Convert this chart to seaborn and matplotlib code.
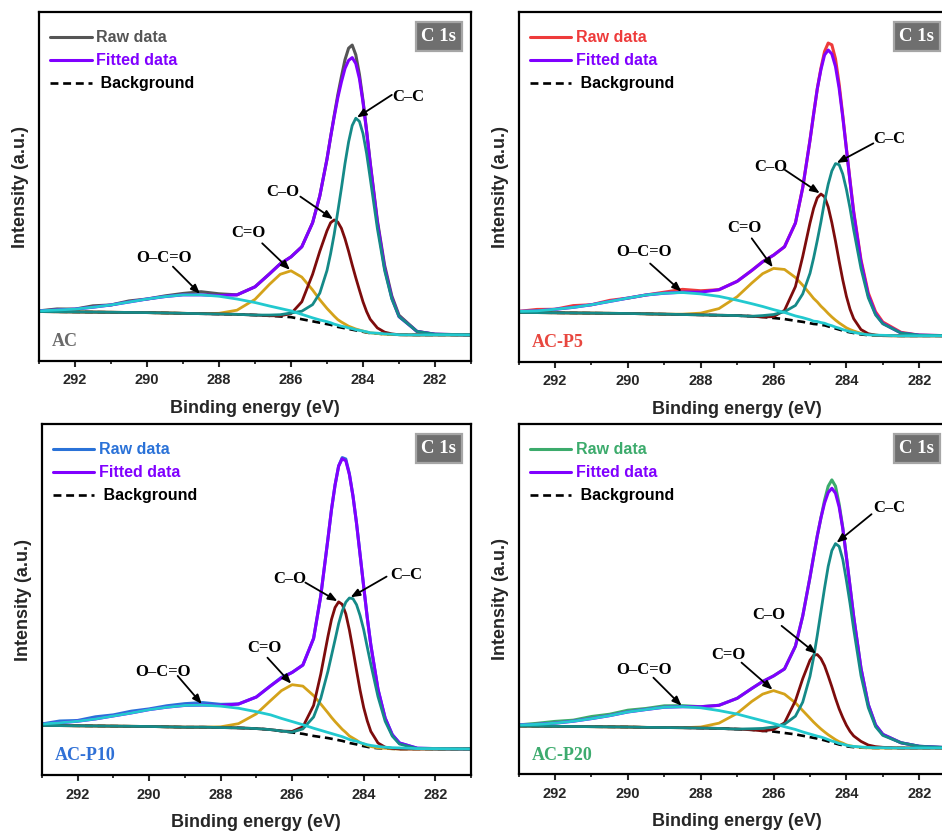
import numpy as np
import pandas as pd
import seaborn as sns
import matplotlib
matplotlib.use("Agg")
import matplotlib.pyplot as plt
from matplotlib.ticker import MultipleLocator

# ---------------------------------------------------------------------------
# C 1s spectra: binding-energy grid shared by all samples (eV)
# ---------------------------------------------------------------------------
energy = [293.0, 292.5, 292.0, 291.5, 291.0, 290.5, 290.0, 289.5, 289.0, 288.5,
          288.0, 287.5, 287.0, 286.6, 286.3, 286.0, 285.7, 285.4, 285.2, 285.0,
          284.9, 284.8, 284.7, 284.6, 284.5, 284.4, 284.3, 284.2, 284.1, 284.0,
          283.9, 283.8, 283.6, 283.4, 283.2, 283.0, 282.5, 282.0, 281.0]

samples = ["AC", "AC-P5", "AC-P10", "AC-P20"]

# Shirley-type backgrounds (a.u.)
bg_ac = [14.1, 14.05, 14.0, 13.95, 13.9, 13.85, 13.8, 13.7, 13.6, 13.5,
         13.4, 13.3, 13.1, 12.9, 12.7, 12.5, 11.9, 11.3, 10.9, 10.5,
         10.3, 10.0, 9.7, 9.5, 9.3, 9.1, 8.9, 8.7, 8.5, 8.3,
         8.1, 7.9, 7.8, 7.6, 7.5, 7.45, 7.4, 7.4, 7.4]
bg_p5 = [14.1, 14.05, 14.0, 13.95, 13.9, 13.85, 13.8, 13.7, 13.6, 13.5,
         13.4, 13.3, 13.2, 13.0, 12.8, 12.5, 12.2, 11.7, 11.4, 11.0,
         10.8, 10.7, 10.5, 10.4, 10.1, 9.8, 9.5, 9.2, 8.9, 8.6,
         8.4, 8.2, 7.8, 7.6, 7.5, 7.45, 7.4, 7.4, 7.4]
bg_p10 = [14.2, 14.15, 14.1, 14.05, 14.0, 13.95, 13.9, 13.8, 13.7, 13.7,
          13.6, 13.5, 13.3, 13.0, 12.6, 12.2, 11.8, 11.2, 10.9, 10.6,
          10.4, 10.2, 10.0, 9.8, 9.5, 9.2, 9.0, 8.8, 8.5, 8.3,
          8.1, 7.9, 7.7, 7.6, 7.55, 7.5, 7.5, 7.5, 7.5]
bg_p20 = [13.8, 13.75, 13.7, 13.65, 13.6, 13.55, 13.5, 13.4, 13.35, 13.3,
          13.2, 13.1, 12.9, 12.7, 12.4, 12.2, 11.8, 11.4, 11.0, 10.6,
          10.4, 10.2, 9.95, 9.7, 9.4, 9.1, 8.8, 8.5, 8.3, 8.0,
          7.85, 7.75, 7.6, 7.55, 7.5, 7.5, 7.5, 7.5, 7.5]

# Fitted components, height above the background (a.u.)
cc_ac = [0, 0, 0, 0, 0, 0, 0, 0, 0, 0, 0, 0, 0, 0.2, 0.5, 1.2, 2.3, 4.8, 8.5, 15.4,
         20.4, 26.3, 33.1, 40.0, 47.3, 53.7, 58.6, 60.9, 60.2, 56.9,
         51.4, 44.5, 30.1, 18.3, 10.2, 5.2, 1.0, 0.2, 0]
co_ac = [0, 0, 0, 0, 0, 0, 0, 0, 0, 0, 0, 0, 0, 0, 0.2, 1.0, 5.0, 13.5, 20.5, 26.8,
         29.3, 30.4, 30.1, 28.5, 25.7, 22.3, 18.6, 15.1, 11.8, 8.6,
         6.0, 4.0, 1.6, 0.6, 0.2, 0, 0, 0, 0]
cdo_ac = [0, 0, 0, 0, 0, 0, 0, 0, 0, 0, 0.2, 1.2, 4.5, 9.0, 12.1, 13.3, 12.1, 9.0, 6.6, 4.5,
          3.6, 2.8, 2.1, 1.6, 1.2, 0.8, 0.6, 0.4, 0.3, 0.2,
          0.1, 0.1, 0, 0, 0, 0, 0, 0, 0]
oco_ac = [0.2, 0.5, 0.8, 1.4, 2.1, 3.0, 3.9, 4.7, 5.3, 5.4, 5.1, 4.4, 3.6, 2.8, 2.3, 1.8, 1.4, 1.0, 0.8, 0.7,
          0.6, 0.5, 0.5, 0.4, 0.4, 0.3, 0.3, 0.2, 0.2, 0.2,
          0.2, 0.1, 0.1, 0.1, 0.1, 0, 0, 0, 0]
res_ac = [0, 0.3, 0, 0.4, 0, 0.3, 0, 0.2, 0.4, 0.9, 0.5, 0, 0, 0, 0, 0, 0, 0, 0, 0,
          0, 0.4, 0.8, 1.5, 2.5, 3.5, 3.6, 2.5, 1.2, 0.5,
          0.3, 0.3, 0.6, 0.8, 0.6, 0.4, 0, 0, 0]

cc_p5 = [0, 0, 0, 0, 0, 0, 0, 0, 0, 0, 0, 0, 0, 0, 0.4, 1.0, 2.1, 4.4, 8.0, 14.3,
         18.9, 24.0, 29.5, 35.5, 40.7, 44.8, 47.2, 47.2, 44.8, 40.7,
         35.5, 29.5, 18.9, 10.7, 5.9, 3.4, 0.8, 0.2, 0]
co_p5 = [0, 0, 0, 0, 0, 0, 0, 0, 0, 0, 0, 0, 0, 0, 0, 0.4, 2.5, 9.8, 18.7, 28.7,
         33.1, 36.2, 37.5, 36.8, 34.2, 30.0, 25.0, 19.6, 14.5, 10.1,
         6.6, 4.1, 1.4, 0.4, 0.1, 0, 0, 0, 0]
cdo_p5 = [0, 0, 0, 0, 0, 0, 0, 0, 0, 0.1, 0.5, 1.9, 5.4, 9.5, 12.4, 14.2, 14.2, 12.4, 10.5, 8.4,
          7.3, 6.4, 5.4, 4.5, 3.7, 3.0, 2.4, 1.9, 1.5, 1.1,
          0.8, 0.6, 0.3, 0.2, 0.1, 0, 0, 0, 0]
oco_p5 = [0.3, 0.5, 1.0, 1.6, 2.4, 3.4, 4.4, 5.4, 6.0, 6.3, 6.0, 5.4, 4.4, 3.6, 3.0, 2.4, 1.9, 1.4, 1.2, 1.0,
          0.8, 0.8, 0.7, 0.6, 0.5, 0.5, 0.4, 0.4, 0.3, 0.3,
          0.2, 0.2, 0.2, 0.1, 0.1, 0.1, 0, 0, 0]
res_p5 = [0, 0.4, 0, 0.5, 0, 0.3, 0, 0, 0.3, 0.8, 0.4, 0, 0, 0, 0, 0, 0, 0, 0, 0,
          0, 0, 0.4, 1.0, 2.0, 2.6, 2.2, 1.2, 0.5, 0.2,
          0.3, 0.4, 0.6, 0.7, 0.6, 0.4, 0.2, 0, 0]

cc_p10 = [0, 0, 0, 0, 0, 0, 0, 0, 0, 0, 0, 0, 0, 0, 0, 0.1, 1.4, 5.4, 11.0, 19.0,
          23.7, 28.4, 33.2, 37.0, 39.8, 41.3, 41.3, 39.8, 37.0, 33.2,
          28.4, 23.7, 14.7, 7.8, 3.6, 1.4, 0.1, 0, 0]
co_p10 = [0, 0, 0, 0, 0, 0, 0, 0, 0, 0, 0, 0, 0, 0, 0, 0.3, 2.0, 8.7, 17.9, 28.9,
          34.0, 37.6, 39.4, 38.9, 36.5, 32.2, 26.8, 21.1, 15.7, 11.0,
          7.4, 4.6, 1.5, 0.4, 0.1, 0, 0, 0, 0]
cdo_p10 = [0, 0, 0, 0, 0, 0, 0, 0, 0, 0, 0.2, 1.2, 4.2, 8.3, 11.5, 13.6, 13.6, 11.5, 9.4, 7.2,
           6.1, 5.1, 4.2, 3.3, 2.7, 2.0, 1.6, 1.2, 0.8, 0.6,
           0.4, 0.3, 0.1, 0.1, 0, 0, 0, 0, 0]
oco_p10 = [0.4, 0.8, 1.3, 2.0, 2.9, 3.8, 4.8, 5.6, 6.2, 6.3, 6.1, 5.6, 4.8, 4.2, 3.6, 3.1, 2.6, 2.2, 1.9, 1.6,
           1.5, 1.4, 1.3, 1.2, 1.1, 1.0, 0.9, 0.9, 0.8, 0.7,
           0.6, 0.6, 0.5, 0.4, 0.3, 0.3, 0.1, 0.1, 0]
res_p10 = [0, 0.5, 0.2, 0.6, 0.3, 0.5, 0.2, 0.4, 0.5, 0.7, 0.3, 0, 0, 0, 0.2, 0, 0, 0, 0, 0,
           0, 0, 0, 0.3, 0.5, 0.2, 0, 0, 0, 0,
           0, 0, 0, 0, 0, 0, 0, 0, 0]

cc_p20 = [0, 0, 0, 0, 0, 0, 0, 0, 0, 0, 0, 0, 0, 0.3, 0.7, 1.3, 2.5, 5.2, 9.6, 17.4,
          23.0, 29.5, 36.5, 43.5, 50.0, 54.8, 57.1, 56.6, 53.1, 47.4,
          40.9, 33.7, 20.6, 11.5, 6.1, 3.6, 1.5, 0.5, 0]
co_p20 = [0, 0, 0, 0, 0, 0, 0, 0, 0, 0, 0, 0, 0, 0, 0, 0.6, 2.9, 9.6, 16.3, 22.0,
          23.6, 24.0, 23.1, 21.3, 18.7, 15.9, 12.9, 10.2, 7.9, 6.0,
          4.4, 3.2, 1.8, 0.8, 0.4, 0.2, 0, 0, 0]
cdo_p20 = [0, 0, 0, 0, 0, 0, 0, 0, 0, 0, 0.3, 1.5, 4.5, 8.1, 10.5, 11.7, 11.1, 9.0, 7.2, 5.4,
           4.5, 3.7, 3.0, 2.4, 1.9, 1.5, 1.1, 0.8, 0.6, 0.4,
           0.3, 0.2, 0.1, 0, 0, 0, 0, 0, 0]
oco_p20 = [0.3, 0.5, 0.9, 1.5, 2.3, 3.2, 4.3, 5.1, 5.8, 6.0, 5.8, 5.1, 4.3, 3.4, 2.9, 2.3, 1.8, 1.4, 1.1, 0.9,
           0.8, 0.7, 0.7, 0.6, 0.5, 0.4, 0.4, 0.3, 0.3, 0.3,
           0.2, 0.2, 0.2, 0.1, 0.1, 0.1, 0, 0, 0]
res_p20 = [0, 0.3, 0.5, 0.3, 0.6, 0.4, 0.5, 0.3, 0.4, 0.3, 0, 0, 0, 0, 0, 0, 0, 0, 0, 0,
           0, 0, 0, 0.8, 1.8, 2.4, 2.0, 0.8, 0.3, 0,
           0, 0, 0, 0, 0, 0, 0, 0, 0]

component_names = ["C=O", "C\u2013O", "C\u2013C", "O\u2013C=O"]

# ---------------------------------------------------------------------------
# Styling and layout
# ---------------------------------------------------------------------------
sns.set_style("white")
plt.rcParams["font.family"] = ["Liberation Sans", "DejaVu Sans"]
plt.rcParams["font.weight"] = "bold"
plt.rcParams["axes.labelweight"] = "bold"
plt.rcParams["axes.edgecolor"] = "black"

SERIF = ["Liberation Serif", "DejaVu Serif"]
FIT_COLOR = "#8000ff"
COMP_COLORS = {"C=O": "#d4a21a", "C\u2013O": "#7d0c0c",
               "C\u2013C": "#158a88", "O\u2013C=O": "#22c9cf"}

raw_colors = {"AC": "#555555", "AC-P5": "#ee3b3b",
              "AC-P10": "#2a72d8", "AC-P20": "#3cab6c"}
tag_colors = {"AC": "#6a6a6a", "AC-P5": "#e8473f",
              "AC-P10": "#2f70d6", "AC-P20": "#3dab6e"}

series = {
    "AC": (bg_ac, cdo_ac, co_ac, cc_ac, oco_ac, res_ac),
    "AC-P5": (bg_p5, cdo_p5, co_p5, cc_p5, oco_p5, res_p5),
    "AC-P10": (bg_p10, cdo_p10, co_p10, cc_p10, oco_p10, res_p10),
    "AC-P20": (bg_p20, cdo_p20, co_p20, cc_p20, oco_p20, res_p20),
}

# axes rectangles in figure fractions (left, bottom, width, height)
rects = {
    "AC": [0.0414, 0.5670, 0.4586, 0.4182],
    "AC-P5": [0.5506, 0.5658, 0.4639, 0.4194],
    "AC-P10": [0.0443, 0.0693, 0.4557, 0.4214],
    "AC-P20": [0.5506, 0.0705, 0.4639, 0.4202],
}

# right edge of the "C 1s" badge, in axes fraction
badge_x = {"AC": 0.966, "AC-P5": 0.951, "AC-P10": 0.966, "AC-P20": 0.951}

# annotation text anchors and arrow tails (energy, intensity)
notes = {
    "AC": {"C\u2013C": ((282.73, 75.6), (283.2, 76.3)),
           "C\u2013O": ((286.24, 48.3), (285.74, 47.1)),
           "C=O": ((287.17, 36.7), (286.8, 33.7)),
           "O\u2013C=O": ((289.53, 29.4), (289.28, 27.0))},
    "AC-P5": {"C\u2013C": ((282.81, 63.6), (283.26, 62.5)),
              "C\u2013O": ((286.07, 55.8), (285.69, 54.9)),
              "C=O": ((286.8, 38.4), (286.6, 35.3)),
              "O\u2013C=O": ((289.55, 31.3), (289.39, 28.1))},
    "AC-P10": {"C\u2013C": ((282.82, 57.0), (283.36, 56.6)),
               "C\u2013O": ((286.06, 56.0), (285.63, 54.9)),
               "C=O": ((286.78, 36.2), (286.69, 33.5)),
               "O\u2013C=O": ((289.62, 29.5), (289.2, 28.3))},
    "AC-P20": {"C\u2013C": ((282.81, 76.0), (283.31, 74.3)),
               "C\u2013O": ((286.12, 45.5), (285.78, 42.4)),
               "C=O": ((287.24, 34.1), (286.88, 31.9)),
               "O\u2013C=O": ((289.55, 29.8), (289.3, 27.6))},
}

fig = plt.figure(figsize=(9.42, 8.33), dpi=100)

for name in samples:
    bg, cdo, co, cc, oco, res = series[name]
    bg_arr = np.asarray(bg)
    comps = {"C=O": np.asarray(cdo), "C\u2013O": np.asarray(co),
             "C\u2013C": np.asarray(cc), "O\u2013C=O": np.asarray(oco)}
    fitted = bg_arr + sum(comps.values())
    table = pd.DataFrame({"energy": energy, "Background": bg_arr,
                          "Fitted data": fitted,
                          "Raw data": fitted + np.asarray(res)})
    for cname in component_names:
        table[cname] = bg_arr + comps[cname]

    ax = fig.add_axes(rects[name])
    ax.set_facecolor("white")

    sns.lineplot(data=table, x="energy", y="Raw data", ax=ax,
                 color=raw_colors[name], linewidth=2.2)
    raw_line = ax.lines[-1]
    sns.lineplot(data=table, x="energy", y="Fitted data", ax=ax,
                 color=FIT_COLOR, linewidth=2.2)
    fit_line = ax.lines[-1]
    sns.lineplot(data=table, x="energy", y="Background", ax=ax,
                 color="black", linewidth=1.9)
    bg_line = ax.lines[-1]
    bg_line.set_dashes((3.0, 1.8))
    for cname in component_names:
        sns.lineplot(data=table, x="energy", y=cname, ax=ax,
                     color=COMP_COLORS[cname], linewidth=2.0)

    # peak labels with arrows pointing at each component maximum
    for cname in component_names:
        (tx, ty), (ax0, ay0) = notes[name][cname]
        k = int(np.argmax(comps[cname]))
        head = (energy[k], table[cname].iloc[k])
        ax.annotate("", xy=head, xytext=(ax0, ay0),
                    arrowprops=dict(arrowstyle="-|>,head_length=0.55,head_width=0.22",
                                    color="black", lw=1.3, shrinkA=0, shrinkB=1,
                                    mutation_scale=10))
        ax.text(tx, ty, cname, ha="center", va="center", fontsize=12,
                family=SERIF, fontweight="bold", color="black")

    ax.set_xlim(293, 281)
    ax.set_ylim(0, 100)
    ax.xaxis.set_major_locator(MultipleLocator(2))
    ax.xaxis.set_minor_locator(MultipleLocator(1))
    ax.set_yticks([])
    ax.tick_params(axis="x", which="major", direction="out", length=4,
                   width=1.5, labelsize=10.5, pad=5, bottom=True, top=False)
    ax.tick_params(axis="x", which="minor", direction="out", length=2.5,
                   width=1.3, bottom=True, top=False)
    for sp in ax.spines.values():
        sp.set_linewidth(1.6)
        sp.set_color("black")

    ax.set_xlabel("Binding energy (eV)", fontsize=13, labelpad=9)
    ax.set_ylabel("Intensity (a.u.)", fontsize=13, labelpad=7)

    leg = ax.legend([raw_line, fit_line, bg_line],
                    ["Raw data", "Fitted data", " Background"],
                    loc="upper left", bbox_to_anchor=(0.0, 0.98), frameon=False,
                    fontsize=11.5, handlelength=2.6, handletextpad=0.3,
                    labelspacing=0.5, borderaxespad=0.25, borderpad=0.45)
    for txt, col in zip(leg.get_texts(), [raw_colors[name], FIT_COLOR, "black"]):
        txt.set_color(col)
        txt.set_fontweight("bold")

    ax.text(0.03, 0.055, name, transform=ax.transAxes, ha="left", va="center",
            fontsize=13, family=SERIF, fontweight="bold", color=tag_colors[name])

    ax.text(badge_x[name], 0.955, "C 1s", transform=ax.transAxes, ha="right", va="top",
            fontsize=13.5, family=SERIF, fontweight="bold", color="white",
            bbox=dict(boxstyle="square,pad=0.3", fc="#6f6f6f", ec="#a6a6a6", lw=1.6))

fig.savefig("out.png", dpi=100)
